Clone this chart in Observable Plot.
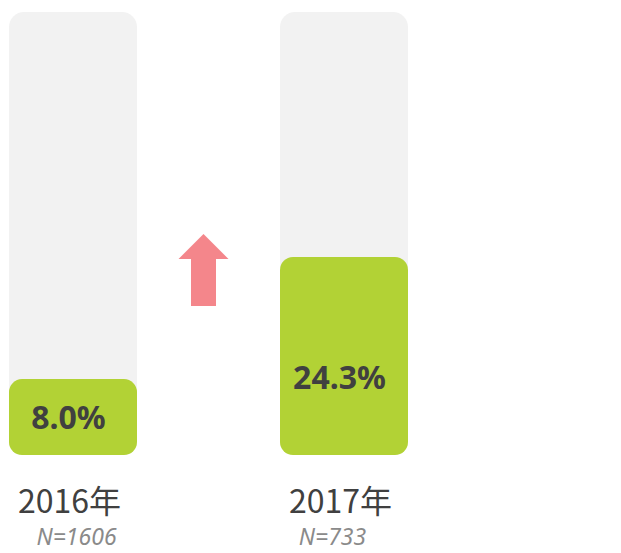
<!DOCTYPE html>
<html>
<head>
<meta charset="utf-8">
<script src="https://cdn.jsdelivr.net/npm/d3@7"></script>
<script src="https://cdn.jsdelivr.net/npm/@observablehq/plot@0.6"></script>
<style>
  html, body { margin: 0; padding: 0; background: #fff; }
  #chart svg { display: block; }
</style>
</head>
<body>
<div id="chart"></div>
<script>
const years = ["2016年", "2017年"];
const shares = [8.0, 24.3];
const sampleSizes = ["N=1606", "N=733"];

const data = years.map((year, i) => ({year, share: shares[i], n: sampleSizes[i]}));

const arrowUp = {
  draw(context) {
    context.moveTo(0, -36);
    context.lineTo(25, -11);
    context.lineTo(12.5, -11);
    context.lineTo(12.5, 36);
    context.lineTo(-12.5, 36);
    context.lineTo(-12.5, -11);
    context.lineTo(-25, -11);
    context.closePath();
  }
};

const nStyle = {
  x: "year", text: "n", frameAnchor: "bottom", dy: 105,
  fill: "#8a8a8a", fontSize: 23, fontStyle: "italic",
  fontFamily: "'Noto Sans', 'Open Sans', sans-serif"
};

const chart = Plot.plot({
  width: 621,
  height: 553,
  marginTop: 12,
  marginBottom: 114,
  marginLeft: 0,
  marginRight: 0,
  style: {background: "#ffffff"},
  x: {domain: years, range: [8, 408], paddingInner: 0.5294, paddingOuter: 0, axis: null},
  y: {domain: [0, 57], axis: null},
  marks: [
    Plot.cell(data, {x: "year", fill: "#f2f2f2", inset: 0, insetBottom: -16, rx: 15}),
    Plot.barY(data, {x: "year", y: "share", fill: "#b2d235", insetLeft: 0, insetRight: 0, insetBottom: -16, rx: 13}),
    Plot.text(data, {
      x: "year", y: d => d.share * 0.33, text: d => d.share.toFixed(1) + "%",
      dx: -5, dy: -1,
      fill: "#404040", fontSize: 32, fontWeight: "bold",
      fontFamily: "'Noto Sans', 'Open Sans', sans-serif"
    }),
    Plot.text(data, {
      x: "year", text: "year", frameAnchor: "bottom", dy: 73, dx: -4,
      fill: "#404040", fontSize: 32,
      fontFamily: "'Noto Sans CJK SC', 'Noto Sans', sans-serif"
    }),
    Plot.text(data.slice(0, 1), {...nStyle, dx: 3}),
    Plot.text(data.slice(1), {...nStyle, dx: -12}),
    Plot.dot([years[0]], {
      x: d => d, dx: 130, dy: 44, symbol: arrowUp, fill: "#f4868b", stroke: "none"
    })
  ]
});

document.getElementById("chart").appendChild(chart);
</script>
</body>
</html>
